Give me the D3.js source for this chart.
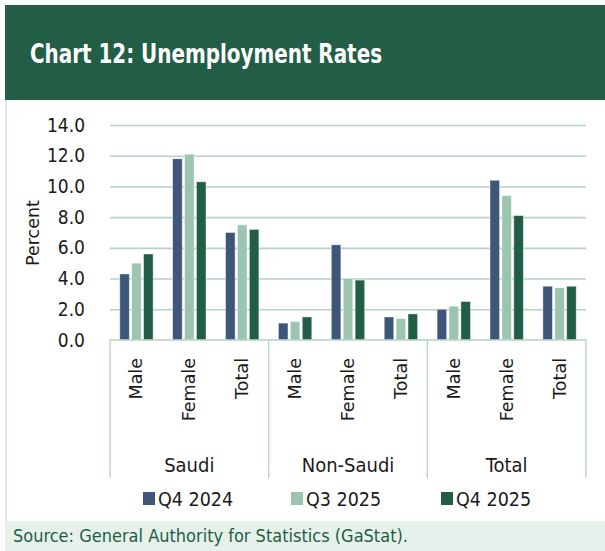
<!DOCTYPE html>
<html>
<head>
<meta charset="utf-8">
<script src="https://cdn.jsdelivr.net/npm/d3@7"></script>
<style>
  body { margin: 0; background: #ffffff; }
  svg { display: block; }
</style>
</head>
<body>
<script>
// ---- data ----
var groups = ["Saudi", "Non-Saudi", "Total"];
var genders = ["Male", "Female", "Total"];
var seriesNames = ["Q4 2024", "Q3 2025", "Q4 2025"];
var q4_2024 = [4.3, 11.8, 7.0, 1.1, 6.2, 1.5, 2.0, 10.4, 3.5];
var q3_2025 = [5.0, 12.1, 7.5, 1.2, 4.0, 1.4, 2.2, 9.4, 3.4];
var q4_2025 = [5.6, 10.3, 7.2, 1.5, 3.9, 1.7, 2.5, 8.1, 3.5];
var yTicks = [0, 2, 4, 6, 8, 10, 12, 14];

// ---- styles ----
var w = 605, h = 551;
var headerGreen = "#215e45";
var gridColor = "#b3d3c3";
var colors = ["#3d5679", "#9cc4b0", "#215e45"];
var dinFont = "'DejaVu Sans Condensed', 'Liberation Sans Narrow', 'Roboto', sans-serif";
var plainFont = "'DejaVu Sans', Verdana, sans-serif";
var textColor = "#1a1a1a";

var svg = d3.select("body").append("svg")
    .attr("width", w)
    .attr("height", h);

// header band
svg.append("rect")
    .attr("x", 5).attr("y", 5)
    .attr("width", w - 5).attr("height", 95)
    .attr("fill", headerGreen);
// title squeezed to look like the condensed face of the original
svg.append("text")
    .attr("x", 30).attr("y", 63)
    .attr("font-family", dinFont)
    .attr("font-weight", "bold")
    .attr("font-size", "26px")
    .attr("textLength", 352)
    .attr("lengthAdjust", "spacingAndGlyphs")
    .attr("fill", "#ffffff")
    .text("Chart 12: Unemployment Rates");

// left border of the panel
svg.append("rect")
    .attr("x", 5).attr("y", 100)
    .attr("width", 2).attr("height", 421)
    .attr("fill", "#dcebe2");

// footer band
svg.append("rect")
    .attr("x", 5).attr("y", 521)
    .attr("width", w - 5).attr("height", 30)
    .attr("fill", "#e7f1eb");
svg.append("text")
    .attr("x", 13).attr("y", 542)
    .attr("font-family", dinFont)
    .attr("font-size", "18px")
    .attr("fill", "#1f5e45")
    .text("Source: General Authority for Statistics (GaStat).");

// ---- scales ----
var plotLeft = 110, plotRight = 586, plotTop = 125, plotBottom = 340;

var rows = [];
groups.forEach(function (g, gi) {
    genders.forEach(function (s, si) {
        var i = gi * 3 + si;
        rows.push({ key: g + "|" + s, group: g, label: s,
            values: [q4_2024[i], q3_2025[i], q4_2025[i]] });
    });
});

var x0 = d3.scaleBand()
    .domain(rows.map(function (d) { return d.key; }))
    .range([plotLeft, plotRight])
    .paddingInner(0.37)
    .paddingOuter(0.185);
var x1 = d3.scaleBand()
    .domain(seriesNames)
    .range([0, x0.bandwidth()])
    .paddingInner(0.2);
var yScale = d3.scaleLinear()
    .domain([0, 14])
    .range([plotBottom, plotTop]);

// grid lines
svg.append("g")
    .attr("class", "grid")
    .attr("transform", "translate(" + plotLeft + ",0)")
    .call(d3.axisLeft(yScale).tickValues(yTicks.slice(1))
        .tickSize(-(plotRight - plotLeft)).tickFormat(""))
    .call(function (g) {
        g.select(".domain").remove();
        g.selectAll("line").attr("stroke", gridColor).attr("stroke-width", 1.6);
    });

// y tick labels
svg.append("g")
    .attr("transform", "translate(" + plotLeft + ",0)")
    .call(d3.axisLeft(yScale).tickValues(yTicks).tickSize(0).tickPadding(25)
        .tickFormat(d3.format(".1f")))
    .call(function (g) {
        g.select(".domain").remove();
        g.selectAll("text")
            .attr("font-family", dinFont)
            .attr("font-size", "19px")
            .attr("fill", textColor);
    });

// y title
svg.append("text")
    .attr("transform", "translate(39," + 233 + ") rotate(-90)")
    .attr("text-anchor", "middle")
    .attr("font-family", plainFont)
    .attr("font-size", "17.5px")
    .attr("fill", textColor)
    .text("Percent");

// bars
var cat = svg.append("g").selectAll("g")
    .data(rows)
    .join("g")
    .attr("transform", function (d) { return "translate(" + x0(d.key) + ",0)"; });
cat.selectAll("rect")
    .data(function (d) { return d.values.map(function (v, i) { return { s: seriesNames[i], v: v, i: i }; }); })
    .join("rect")
    .attr("x", function (d) { return x1(d.s); })
    .attr("y", function (d) { return yScale(d.v); })
    .attr("width", x1.bandwidth())
    .attr("height", function (d) { return plotBottom - yScale(d.v); })
    .attr("fill", function (d) { return colors[d.i]; })
    .attr("stroke", "#ffffff")
    .attr("stroke-opacity", 0.5)
    .attr("stroke-width", 0.8);

// category axis: baseline and group separators
var groupStep = (plotRight - plotLeft) / groups.length;
svg.append("line")
    .attr("x1", plotLeft).attr("x2", plotRight)
    .attr("y1", plotBottom).attr("y2", plotBottom)
    .attr("stroke", gridColor).attr("stroke-width", 1.6);
svg.append("g").selectAll("line")
    .data(d3.range(groups.length + 1))
    .join("line")
    .attr("x1", function (i) { return plotLeft + i * groupStep; })
    .attr("x2", function (i) { return plotLeft + i * groupStep; })
    .attr("y1", plotBottom).attr("y2", 478)
    .attr("stroke", gridColor).attr("stroke-width", 1.3);

// inner category labels (rotated)
svg.append("g").selectAll("text")
    .data(rows)
    .join("text")
    .attr("transform", function (d) {
        return "translate(" + (x0(d.key) + x0.bandwidth() / 2 + 6) + ",358) rotate(-90)";
    })
    .attr("text-anchor", "end")
    .attr("font-family", plainFont)
    .attr("font-size", "17.5px")
    .attr("fill", textColor)
    .text(function (d) { return d.label; });

// group labels
svg.append("g").selectAll("text")
    .data(groups)
    .join("text")
    .attr("x", function (g, i) { return plotLeft + (i + 0.5) * groupStep; })
    .attr("y", 472)
    .attr("text-anchor", "middle")
    .attr("font-family", dinFont)
    .attr("font-size", "20px")
    .attr("fill", textColor)
    .text(function (g) { return g; });

// legend
var legendX = [143, 291, 441];
var legend = svg.append("g").selectAll("g")
    .data(seriesNames)
    .join("g")
    .attr("transform", function (d, i) { return "translate(" + legendX[i] + ",492)"; });
legend.append("rect")
    .attr("width", 12).attr("height", 13)
    .attr("fill", function (d, i) { return colors[i]; });
legend.append("text")
    .attr("x", 15).attr("y", 14)
    .attr("font-family", dinFont)
    .attr("font-size", "19.5px")
    .attr("fill", textColor)
    .text(function (d) { return d; });
</script>
</body>
</html>
